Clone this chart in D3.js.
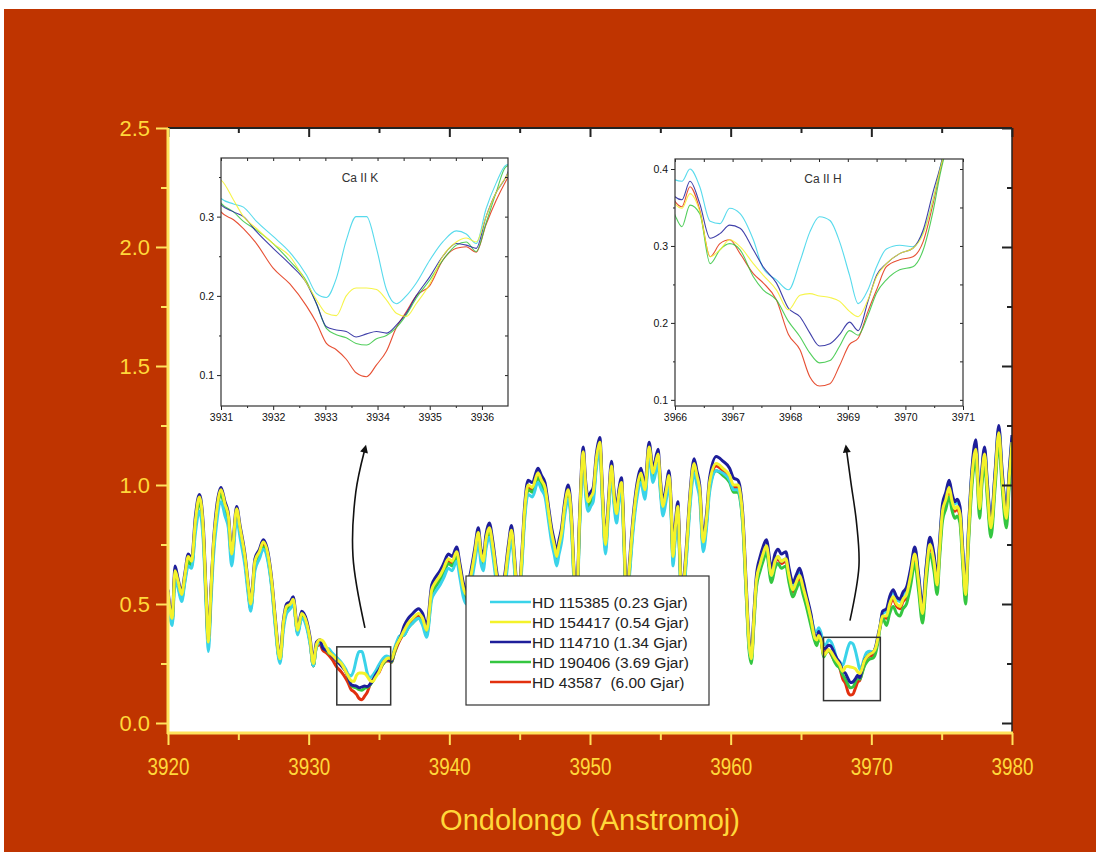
<!DOCTYPE html>
<html>
<head>
<meta charset="utf-8">
<script src="https://cdn.jsdelivr.net/npm/d3@7"></script>
<style>
  body { margin: 0; background: #fff; }
  text { font-family: "Liberation Sans", Arial, sans-serif; }
</style>
</head>
<body>
<div id="chart"></div>
<script>
// wavelength grids (Angstrom), split in the same pieces as the two zoomed windows
const wlLeft = [3920.0,3920.15,3920.3,3920.5,3920.7,3920.97,3921.2,3921.44,3921.68,3921.95,
  3922.23,3922.5,3922.7,3922.87,3923.05,3923.22,3923.46,3923.77,3924.05,3924.29,
  3924.53,3924.88,3925.12,3925.47,3925.7,3925.88,3926.18,3926.5,3926.77,3927.13,
  3927.4,3927.6,3927.96,3928.2,3928.43,3928.7,3928.9,3929.22,3929.5,3929.86,
  3930.1,3930.33,3930.55,3930.8]
const wlK = [3931.0,3931.24,3931.43,3931.68,3932.0,3932.32,3932.64,3932.83,3933.02,3933.21,
  3933.4,3933.59,3933.79,3933.98,3934.17,3934.36,3934.55,3934.74,3935.0,3935.25,
  3935.51,3935.7,3935.89,3936.08,3936.27,3936.46]
const wlMid = [3936.8,3937.08,3937.4,3937.8,3938.1,3938.39,3938.75,3939.0,3939.34,3939.6,
  3939.93,3940.2,3940.52,3940.75,3940.99,3941.2,3941.5,3941.8,3942.06,3942.25,
  3942.41,3942.6,3942.84,3943.1,3943.36,3943.6,3943.9,3944.2,3944.42,3944.65,
  3944.9,3945.15,3945.35,3945.6,3945.9,3946.3,3946.55,3946.8,3947.05,3947.27,
  3947.45,3947.63,3947.8,3947.98,3948.2,3948.45,3948.69,3948.85,3949.05,3949.25,
  3949.52,3949.7,3949.87,3950.05,3950.23,3950.45,3950.7,3950.9,3951.1,3951.3,
  3951.53,3951.7,3951.89,3952.05,3952.24,3952.42,3952.6,3952.8,3953.07,3953.35,
  3953.62,3953.9,3954.2,3954.48,3954.84,3955.0,3955.19,3955.4,3955.62,3955.78,
  3955.9,3956.08,3956.25,3956.38,3956.5,3956.7,3956.86,3957.1,3957.4,3957.6,
  3957.8,3958.05,3958.3,3958.5,3958.98,3959.45,3959.93,3960.2,3960.52,3960.64,
  3960.87,3961.1,3961.3,3961.47,3961.65,3961.83,3962.1,3962.3,3962.54,3962.9,
  3963.15,3963.37,3963.6,3963.92,3964.15,3964.43,3964.65,3964.9,3965.15,3965.38,3965.7]
const wlH = [3966.0,3966.12,3966.26,3966.43,3966.61,3966.78,3966.95,3967.13,3967.36,3967.53,
  3967.76,3967.97,3968.17,3968.34,3968.51,3968.69,3968.86,3969.03,3969.18,3969.35,
  3969.5,3969.67,3969.9,3970.13,3970.31,3970.48,3970.62]
const wlRight = [3970.8,3971.08,3971.3,3971.55,3971.8,3972.03,3972.25,3972.5,3972.8,3973.09,
  3973.35,3973.64,3973.9,3974.16,3974.45,3974.68,3974.85,3975.06,3975.3,3975.53,
  3975.75,3975.94,3976.1,3976.3,3976.5,3976.7,3976.9,3977.12,3977.43,3977.7,
  3977.85,3978.05,3978.25,3978.5,3978.8,3979.06,3979.3,3979.6,3979.8,3980.0]

// HD 115385 (0.23 Gjar)
const left115385 = [0.52,0.44,0.41,0.60,0.57,0.51,0.59,0.66,0.65,0.80,0.89,0.77,0.50,0.30,0.50,0.69,0.84,0.93,0.87,0.82,
  0.66,0.86,0.78,0.66,0.54,0.47,0.64,0.69,0.73,0.67,0.55,0.42,0.25,0.39,0.46,0.48,0.50,0.37,0.44,0.40,0.33,0.24,0.32,0.34]
const k115385 = [0.323,0.316,0.312,0.294,0.275,0.255,0.226,0.203,0.198,0.222,0.27,0.30,0.30,0.26,0.208,0.19,0.20,0.216,0.245,0.268,
  0.282,0.278,0.266,0.31,0.342,0.365]
const mid115385 = [0.37,0.40,0.42,0.44,0.41,0.36,0.52,0.55,0.58,0.61,0.65,0.64,0.68,0.61,0.53,0.50,0.57,0.67,0.76,0.67,
  0.64,0.73,0.78,0.70,0.58,0.51,0.55,0.69,0.77,0.63,0.45,0.65,0.85,0.96,0.95,1.01,0.98,0.95,0.85,0.76,
  0.71,0.66,0.71,0.76,0.87,0.94,0.81,0.60,0.45,0.80,1.10,0.95,0.89,0.91,0.93,1.07,1.14,0.90,0.71,0.87,
  1.04,0.92,0.84,0.92,0.97,0.73,0.45,0.61,0.81,0.95,1.01,0.94,1.12,1.01,1.09,0.97,0.87,0.93,1.00,0.85,
  0.66,0.79,0.87,0.67,0.50,0.57,0.69,0.90,1.05,1.00,0.94,0.72,0.83,0.97,1.06,1.05,1.02,0.98,0.98,0.96,
  0.83,0.55,0.33,0.27,0.44,0.60,0.67,0.71,0.745,0.62,0.68,0.70,0.68,0.69,0.63,0.57,0.60,0.63,0.58,0.53,0.45]
const h115385 = [0.386,0.384,0.40,0.377,0.332,0.329,0.349,0.342,0.308,0.271,0.256,0.243,0.28,0.318,0.338,0.333,0.305,0.262,0.225,0.243,
  0.273,0.296,0.301,0.299,0.318,0.36,0.407]
const right115385 = [0.46,0.47,0.52,0.55,0.52,0.51,0.54,0.56,0.64,0.73,0.62,0.48,0.65,0.77,0.70,0.60,0.75,0.91,0.96,1.01,
  0.95,0.92,0.93,0.90,0.72,0.56,0.80,1.03,1.17,0.92,1.05,1.15,1.00,0.84,1.05,1.24,1.05,0.88,1.05,1.20]

// HD 154417 (0.54 Gjar)
const left154417 = [0.55,0.47,0.44,0.64,0.60,0.54,0.62,0.70,0.68,0.85,0.95,0.82,0.55,0.34,0.55,0.74,0.89,0.98,0.92,0.87,
  0.71,0.90,0.82,0.70,0.58,0.50,0.68,0.72,0.76,0.70,0.58,0.45,0.27,0.42,0.49,0.50,0.52,0.39,0.46,0.42,0.35,0.25,0.33,0.35]
const k154417 = [0.346,0.321,0.30,0.285,0.266,0.25,0.216,0.195,0.178,0.175,0.20,0.21,0.21,0.208,0.195,0.178,0.174,0.19,0.215,0.25,
  0.268,0.273,0.268,0.30,0.33,0.35]
const mid154417 = [0.39,0.42,0.44,0.46,0.44,0.39,0.56,0.59,0.62,0.65,0.69,0.68,0.72,0.65,0.57,0.54,0.61,0.71,0.80,0.71,
  0.68,0.77,0.82,0.74,0.62,0.55,0.59,0.73,0.81,0.67,0.49,0.69,0.89,1.00,0.99,1.05,1.02,0.99,0.89,0.80,
  0.75,0.70,0.75,0.80,0.91,0.98,0.85,0.64,0.49,0.84,1.14,0.99,0.93,0.95,0.97,1.11,1.18,0.94,0.75,0.91,
  1.08,0.96,0.88,0.96,1.01,0.77,0.49,0.65,0.85,0.99,1.05,0.98,1.16,1.05,1.13,1.01,0.91,0.97,1.04,0.89,
  0.70,0.83,0.91,0.71,0.54,0.61,0.73,0.94,1.09,1.04,0.98,0.76,0.87,1.01,1.09,1.07,1.04,1.00,1.00,0.98,
  0.85,0.57,0.34,0.27,0.44,0.60,0.67,0.71,0.745,0.62,0.68,0.70,0.68,0.69,0.62,0.56,0.59,0.62,0.57,0.52,0.44]
const h154417 = [0.355,0.349,0.368,0.345,0.286,0.295,0.308,0.299,0.277,0.262,0.243,0.217,0.236,0.238,0.235,0.233,0.228,0.215,0.208,0.23,
  0.26,0.277,0.29,0.297,0.316,0.36,0.405]
const right154417 = [0.45,0.45,0.50,0.53,0.50,0.49,0.52,0.54,0.62,0.71,0.60,0.46,0.63,0.75,0.68,0.58,0.73,0.89,0.94,0.99,
  0.93,0.90,0.91,0.88,0.70,0.54,0.78,1.01,1.15,0.90,1.03,1.13,0.98,0.82,1.03,1.22,1.03,0.86,1.03,1.18]

// HD 114710 (1.34 Gjar)
const left114710 = [0.56,0.48,0.45,0.66,0.61,0.55,0.63,0.71,0.69,0.87,0.96,0.84,0.56,0.35,0.56,0.75,0.91,0.99,0.93,0.88,
  0.72,0.91,0.83,0.71,0.59,0.51,0.69,0.73,0.77,0.71,0.59,0.46,0.28,0.43,0.50,0.51,0.53,0.40,0.47,0.43,0.36,0.26,0.34,0.35]
const k114710 = [0.315,0.306,0.30,0.281,0.26,0.24,0.216,0.19,0.161,0.157,0.155,0.148,0.152,0.155,0.153,0.163,0.178,0.20,0.224,0.25,
  0.266,0.264,0.26,0.30,0.33,0.35]
const mid114710 = [0.41,0.44,0.46,0.48,0.46,0.41,0.58,0.61,0.64,0.67,0.71,0.70,0.74,0.67,0.59,0.56,0.63,0.73,0.82,0.73,
  0.70,0.79,0.84,0.76,0.64,0.57,0.61,0.75,0.83,0.69,0.51,0.71,0.91,1.02,1.01,1.07,1.04,1.01,0.91,0.82,
  0.77,0.72,0.77,0.82,0.93,1.00,0.87,0.66,0.51,0.86,1.16,1.01,0.95,0.97,0.99,1.13,1.20,0.96,0.77,0.93,
  1.10,0.98,0.90,0.98,1.03,0.79,0.51,0.67,0.87,1.01,1.07,1.00,1.18,1.07,1.15,1.03,0.93,0.99,1.06,0.91,
  0.72,0.85,0.93,0.73,0.56,0.63,0.75,0.96,1.11,1.06,1.00,0.78,0.89,1.03,1.12,1.10,1.07,1.03,1.02,1.00,
  0.87,0.59,0.36,0.29,0.46,0.62,0.70,0.74,0.77,0.65,0.71,0.73,0.71,0.72,0.65,0.59,0.62,0.65,0.60,0.54,0.46]
const h114710 = [0.364,0.36,0.384,0.355,0.31,0.316,0.327,0.323,0.295,0.273,0.252,0.219,0.208,0.187,0.17,0.173,0.185,0.201,0.19,0.228,
  0.262,0.277,0.29,0.297,0.321,0.37,0.407]
const right114710 = [0.47,0.48,0.53,0.56,0.53,0.52,0.55,0.57,0.65,0.74,0.63,0.49,0.66,0.78,0.71,0.61,0.76,0.92,0.97,1.02,
  0.96,0.93,0.94,0.91,0.73,0.57,0.81,1.04,1.19,0.93,1.06,1.16,1.01,0.85,1.06,1.25,1.06,0.89,1.06,1.21]

// HD 190406 (3.69 Gjar)
const left190406 = [0.53,0.45,0.42,0.62,0.58,0.52,0.60,0.68,0.66,0.83,0.93,0.80,0.53,0.33,0.53,0.72,0.87,0.96,0.90,0.85,
  0.69,0.88,0.80,0.68,0.56,0.48,0.66,0.70,0.74,0.68,0.56,0.43,0.26,0.41,0.47,0.49,0.51,0.38,0.45,0.41,0.34,0.24,0.32,0.34]
const k190406 = [0.317,0.306,0.294,0.283,0.266,0.244,0.218,0.19,0.159,0.151,0.147,0.14,0.138,0.146,0.15,0.16,0.176,0.197,0.22,0.245,
  0.264,0.268,0.256,0.292,0.33,0.363]
const mid190406 = [0.37,0.40,0.42,0.44,0.42,0.37,0.54,0.57,0.60,0.63,0.67,0.66,0.70,0.63,0.55,0.52,0.59,0.69,0.78,0.69,
  0.66,0.75,0.80,0.72,0.60,0.53,0.57,0.71,0.79,0.65,0.47,0.67,0.87,0.98,0.97,1.03,1.00,0.97,0.87,0.78,
  0.73,0.68,0.73,0.78,0.89,0.96,0.83,0.62,0.47,0.82,1.12,0.97,0.91,0.93,0.95,1.09,1.16,0.92,0.73,0.89,
  1.06,0.94,0.86,0.94,0.99,0.75,0.47,0.63,0.83,0.97,1.03,0.96,1.14,1.03,1.11,0.99,0.89,0.95,1.02,0.87,
  0.68,0.81,0.89,0.69,0.52,0.59,0.71,0.92,1.07,1.02,0.96,0.74,0.85,0.99,1.06,1.04,1.01,0.97,0.97,0.95,
  0.82,0.54,0.31,0.25,0.41,0.57,0.64,0.68,0.715,0.59,0.65,0.67,0.65,0.66,0.59,0.53,0.56,0.59,0.54,0.49,0.41]
const h190406 = [0.34,0.325,0.353,0.342,0.277,0.295,0.303,0.295,0.26,0.243,0.23,0.202,0.182,0.161,0.148,0.151,0.17,0.19,0.184,0.21,
  0.239,0.256,0.269,0.273,0.295,0.345,0.399]
const right190406 = [0.44,0.41,0.46,0.49,0.46,0.45,0.48,0.50,0.58,0.67,0.56,0.42,0.59,0.71,0.64,0.54,0.69,0.85,0.90,0.95,
  0.89,0.86,0.87,0.84,0.66,0.50,0.74,0.97,1.11,0.86,0.99,1.09,0.94,0.78,0.99,1.18,0.99,0.82,0.99,1.14]

// HD 43587 (6.00 Gjar)
const left43587 = [0.55,0.46,0.43,0.64,0.59,0.53,0.61,0.69,0.67,0.84,0.94,0.81,0.54,0.34,0.54,0.73,0.88,0.97,0.91,0.86,
  0.70,0.89,0.81,0.69,0.56,0.48,0.67,0.71,0.75,0.69,0.57,0.44,0.26,0.41,0.48,0.49,0.51,0.38,0.45,0.41,0.34,0.24,0.32,0.33]
const k43587 = [0.306,0.296,0.285,0.266,0.235,0.215,0.187,0.166,0.14,0.132,0.12,0.103,0.098,0.113,0.13,0.16,0.18,0.20,0.213,0.245,
  0.26,0.262,0.255,0.29,0.32,0.345]
const mid43587 = [0.38,0.41,0.43,0.45,0.43,0.38,0.55,0.58,0.61,0.64,0.68,0.67,0.71,0.64,0.56,0.53,0.60,0.70,0.79,0.70,
  0.67,0.76,0.81,0.73,0.61,0.54,0.58,0.72,0.80,0.66,0.48,0.68,0.88,0.99,0.98,1.04,1.01,0.98,0.88,0.79,
  0.74,0.69,0.74,0.79,0.90,0.97,0.84,0.63,0.48,0.83,1.13,0.98,0.92,0.94,0.96,1.10,1.17,0.93,0.74,0.90,
  1.07,0.95,0.87,0.95,1.00,0.76,0.48,0.64,0.84,0.98,1.04,0.97,1.15,1.04,1.12,1.00,0.90,0.96,1.03,0.88,
  0.69,0.82,0.90,0.70,0.53,0.60,0.72,0.93,1.08,1.03,0.97,0.75,0.86,1.00,1.08,1.06,1.03,0.99,0.99,0.97,
  0.84,0.56,0.33,0.27,0.43,0.59,0.66,0.70,0.735,0.61,0.67,0.69,0.67,0.68,0.61,0.55,0.58,0.61,0.56,0.51,0.43]
const h43587 = [0.358,0.351,0.377,0.347,0.286,0.303,0.308,0.29,0.264,0.252,0.23,0.185,0.165,0.13,0.118,0.121,0.145,0.172,0.18,0.215,
  0.243,0.273,0.282,0.286,0.306,0.355,0.403]
const right43587 = [0.45,0.44,0.49,0.52,0.49,0.48,0.51,0.53,0.61,0.70,0.59,0.45,0.62,0.74,0.67,0.57,0.72,0.88,0.93,0.98,
  0.92,0.89,0.90,0.87,0.69,0.53,0.77,1.00,1.14,0.89,1.02,1.12,0.97,0.81,1.02,1.21,1.02,0.85,1.02,1.17]

const legendLabels = ['HD 115385 (0.23 Gjar)', 'HD 154417 (0.54 Gjar)', 'HD 114710 (1.34 Gjar)',
                      'HD 190406 (3.69 Gjar)', 'HD 43587  (6.00 Gjar)']
const colors = ['#3ad3e9', '#f4f22a', '#1e1e9a', '#34c640', '#e2300f']

// axis ticks
const xTicks = [3920, 3930, 3940, 3950, 3960, 3970, 3980]
const yTicks = [0.0, 0.5, 1.0, 1.5, 2.0, 2.5]
const kTicksX = [3931, 3932, 3933, 3934, 3935, 3936]
const kTicksY = [0.1, 0.2, 0.3]
const hTicksX = [3966, 3967, 3968, 3969, 3970, 3971]
const hTicksY = [0.1, 0.2, 0.3, 0.4]

// zoom boxes on the main plot [x0, x1, y0, y1] and arrow paths, in data units
const boxK = [3932.0, 3935.83, 0.076, 0.32]
const boxH = [3966.6, 3970.64, 0.094, 0.36]
const arrowK = [[3934.0, 0.40], [3933.15, 0.70], [3933.35, 0.97], [3933.95, 1.14]]
const arrowH = [[3968.48, 0.43], [3969.12, 0.66], [3968.95, 0.84], [3968.55, 1.01], [3968.25, 1.14]]

// -------------------------------------------------------------
const W = 1100, H = 856
const yellowText = '#ffd83a'
const axisYellow = '#ffe35c'

const wavelength = [...wlLeft, ...wlK, ...wlMid, ...wlH, ...wlRight]
const seriesValues = [
  [...left115385, ...k115385, ...mid115385, ...h115385, ...right115385],
  [...left154417, ...k154417, ...mid154417, ...h154417, ...right154417],
  [...left114710, ...k114710, ...mid114710, ...h114710, ...right114710],
  [...left190406, ...k190406, ...mid190406, ...h190406, ...right190406],
  [...left43587, ...k43587, ...mid43587, ...h43587, ...right43587]
]
const series = seriesValues.map((vals, i) => ({
  label: legendLabels[i],
  color: colors[i],
  points: vals.map((v, j) => [wavelength[j], v])
}))
// drawing order so that yellow sits on top like in the picture
const drawOrder = [4, 3, 0, 2, 1]

const svg = d3.select('#chart').append('svg')
  .attr('width', W).attr('height', H)

svg.append('rect')
  .attr('x', 4).attr('y', 9).attr('width', 1092).attr('height', 843)
  .attr('fill', '#bf3400')

const plot = {left: 168, right: 1012, top: 128, bottom: 733}
const x = d3.scaleLinear().domain([3920, 3980]).range([plot.left, plot.right])
const y = d3.scaleLinear().domain([-0.042, 2.5]).range([plot.bottom, plot.top])

svg.append('rect')
  .attr('x', plot.left).attr('y', plot.top)
  .attr('width', plot.right - plot.left).attr('height', plot.bottom - plot.top)
  .attr('fill', '#fff')

const defs = svg.append('defs')
defs.append('clipPath').attr('id', 'clipMain')
  .append('rect')
  .attr('x', plot.left).attr('y', plot.top)
  .attr('width', plot.right - plot.left).attr('height', plot.bottom - plot.top)

defs.append('marker')
  .attr('id', 'arrowhead')
  .attr('viewBox', '0 0 10 10')
  .attr('refX', 1).attr('refY', 5)
  .attr('markerWidth', 14).attr('markerHeight', 8)
  .attr('markerUnits', 'userSpaceOnUse')
  .attr('orient', 'auto')
  .append('path').attr('d', 'M0,0 L10,5 L0,10 Z').attr('fill', '#111')

// main spectra
const line = d3.line()
  .x(d => x(d[0]))
  .y(d => y(d[1]))
  .curve(d3.curveMonotoneX)

svg.append('g').attr('clip-path', 'url(#clipMain)')
  .selectAll('path')
  .data(drawOrder.map(i => series[i]))
  .join('path')
  .attr('d', d => line(d.points))
  .attr('fill', 'none')
  .attr('stroke', d => d.color)
  .attr('stroke-width', 3)
  .attr('stroke-linejoin', 'round')

// zoom boxes
svg.selectAll('rect.zoombox')
  .data([boxK, boxH])
  .join('rect')
  .attr('class', 'zoombox')
  .attr('x', d => x(d[0]))
  .attr('y', d => y(d[3]))
  .attr('width', d => x(d[1]) - x(d[0]))
  .attr('height', d => y(d[2]) - y(d[3]))
  .attr('fill', 'none')
  .attr('stroke', '#333')
  .attr('stroke-width', 1.5)

// curved arrows
const arrowLine = d3.line()
  .x(d => x(d[0]))
  .y(d => y(d[1]))
  .curve(d3.curveCatmullRom)

svg.selectAll('path.arrow')
  .data([arrowK, arrowH])
  .join('path')
  .attr('class', 'arrow')
  .attr('d', arrowLine)
  .attr('fill', 'none')
  .attr('stroke', '#111')
  .attr('stroke-width', 1.6)
  .attr('marker-end', 'url(#arrowhead)')

// main axes
function styleAxis(g, color, fontSize) {
  g.select('.domain').remove()
  g.selectAll('.tick line').attr('stroke', color).attr('stroke-width', 2)
  g.selectAll('.tick text')
    .attr('fill', yellowText)
    .style('font-size', fontSize + 'px')
}

const yMinor = d3.range(0.25, 2.5, 0.5)
const xMinor = d3.range(3925, 3980, 10)

// left (yellow, outward)
const gl = svg.append('g').attr('transform', `translate(${plot.left},0)`)
  .call(d3.axisLeft(y).tickValues(yTicks).tickSize(12).tickPadding(6).tickFormat(d3.format('.1f')))
styleAxis(gl, axisYellow, 22)
const glm = svg.append('g').attr('transform', `translate(${plot.left},0)`)
  .call(d3.axisLeft(y).tickValues(yMinor).tickSize(7).tickFormat(''))
styleAxis(glm, axisYellow, 22)

// bottom (yellow, outward), labels a bit condensed like the original
const gb = svg.append('g').attr('transform', `translate(0,${plot.bottom})`)
  .call(d3.axisBottom(x).tickValues(xTicks).tickSize(12).tickPadding(14).tickFormat(d3.format('d')))
styleAxis(gb, axisYellow, 23)
gb.selectAll('.tick text').attr('transform', 'scale(0.82,1)')
const gbm = svg.append('g').attr('transform', `translate(0,${plot.bottom})`)
  .call(d3.axisBottom(x).tickValues(xMinor).tickSize(7).tickFormat(''))
styleAxis(gbm, axisYellow, 22)

// top (black, inward)
const gt = svg.append('g').attr('transform', `translate(0,${plot.top})`)
  .call(d3.axisBottom(x).tickValues(xTicks).tickSize(9).tickFormat(''))
styleAxis(gt, '#222', 10)
const gtm = svg.append('g').attr('transform', `translate(0,${plot.top})`)
  .call(d3.axisBottom(x).tickValues(xMinor).tickSize(5).tickFormat(''))
styleAxis(gtm, '#222', 10)

// right (black, inward)
const gr = svg.append('g').attr('transform', `translate(${plot.right},0)`)
  .call(d3.axisLeft(y).tickValues(yTicks).tickSize(10).tickFormat(''))
styleAxis(gr, '#222', 10)
const grm = svg.append('g').attr('transform', `translate(${plot.right},0)`)
  .call(d3.axisLeft(y).tickValues(yMinor).tickSize(5).tickFormat(''))
styleAxis(grm, '#222', 10)

// frame lines
svg.append('line').attr('x1', plot.left).attr('x2', plot.right).attr('y1', plot.top).attr('y2', plot.top)
  .attr('stroke', '#222').attr('stroke-width', 2)
svg.append('line').attr('x1', plot.right).attr('x2', plot.right).attr('y1', plot.top).attr('y2', plot.bottom)
  .attr('stroke', '#222').attr('stroke-width', 1.5)
svg.append('line').attr('x1', plot.left).attr('x2', plot.left).attr('y1', plot.top).attr('y2', plot.bottom + 1)
  .attr('stroke', axisYellow).attr('stroke-width', 3)
svg.append('line').attr('x1', plot.left - 1).attr('x2', plot.right + 1).attr('y1', plot.bottom).attr('y2', plot.bottom)
  .attr('stroke', axisYellow).attr('stroke-width', 3)

svg.append('text')
  .attr('x', 590).attr('y', 830)
  .attr('text-anchor', 'middle')
  .attr('fill', yellowText)
  .style('font-size', '29px')
  .text('Ondolongo (Anstromoj)')

// legend
const legend = {x: 466, y: 576, w: 243, h: 129}
const lg = svg.append('g')
lg.append('rect')
  .attr('x', legend.x).attr('y', legend.y).attr('width', legend.w).attr('height', legend.h)
  .attr('fill', '#fff').attr('stroke', '#333').attr('stroke-width', 1.2)
const rows = lg.selectAll('g.row').data(series).join('g')
  .attr('class', 'row')
  .attr('transform', (d, i) => `translate(${legend.x}, ${legend.y + 26 + i * 20})`)
rows.append('line')
  .attr('x1', 24).attr('x2', 65)
  .attr('stroke', d => d.color).attr('stroke-width', 2.5)
rows.append('text')
  .attr('x', 66).attr('y', 5.5)
  .attr('fill', '#222')
  .style('font-size', '15.5px')
  .style('white-space', 'pre')
  .text(d => d.label)

// insets
function drawInset(cfg) {
  const ix = d3.scaleLinear().domain(cfg.xDomain).range([cfg.left, cfg.right])
  const iy = d3.scaleLinear().domain(cfg.yDomain).range([cfg.bottom, cfg.top])
  const g = svg.append('g')
  g.append('rect')
    .attr('x', cfg.left).attr('y', cfg.top)
    .attr('width', cfg.right - cfg.left).attr('height', cfg.bottom - cfg.top)
    .attr('fill', '#fff')
  defs.append('clipPath').attr('id', cfg.id)
    .append('rect')
    .attr('x', cfg.left).attr('y', cfg.top)
    .attr('width', cfg.right - cfg.left).attr('height', cfg.bottom - cfg.top)

  const iline = d3.line()
    .x(d => ix(d[0]))
    .y(d => iy(d[1]))
    .curve(d3.curveMonotoneX)

  g.append('g').attr('clip-path', `url(#${cfg.id})`)
    .selectAll('path')
    .data(drawOrder.map(i => series[i]))
    .join('path')
    .attr('d', d => iline(d.points))
    .attr('fill', 'none')
    .attr('stroke', d => d.color)
    .attr('stroke-width', 1.1)
    .attr('opacity', 0.85)

  const xMin = d3.range(cfg.xDomain[0] + 0.5, cfg.xDomain[1], 1)
  const yMin = d3.range(0.15, cfg.yDomain[1], 0.1)

  function small(ax) {
    ax.select('.domain').remove()
    ax.selectAll('.tick line').attr('stroke', '#222').attr('stroke-width', 1)
    ax.selectAll('.tick text').attr('fill', '#111').style('font-size', '10.5px')
  }
  small(g.append('g').attr('transform', `translate(0,${cfg.bottom})`)
    .call(d3.axisBottom(ix).tickValues(cfg.xTicks).tickSize(4).tickPadding(4).tickFormat(d3.format('d'))))
  small(g.append('g').attr('transform', `translate(0,${cfg.bottom})`)
    .call(d3.axisBottom(ix).tickValues(xMin).tickSize(2).tickFormat('')))
  small(g.append('g').attr('transform', `translate(${cfg.left},0)`)
    .call(d3.axisLeft(iy).tickValues(cfg.yTicks).tickSize(4).tickPadding(3).tickFormat(d3.format('.1f'))))
  small(g.append('g').attr('transform', `translate(${cfg.left},0)`)
    .call(d3.axisLeft(iy).tickValues(yMin).tickSize(2).tickFormat('')))
  small(g.append('g').attr('transform', `translate(0,${cfg.top})`)
    .call(d3.axisBottom(ix).tickValues(cfg.xTicks.concat(xMin)).tickSize(3).tickFormat('')))
  small(g.append('g').attr('transform', `translate(${cfg.right},0)`)
    .call(d3.axisLeft(iy).tickValues(cfg.yTicks.concat(yMin)).tickSize(3).tickFormat('')))

  g.append('rect')
    .attr('x', cfg.left).attr('y', cfg.top)
    .attr('width', cfg.right - cfg.left).attr('height', cfg.bottom - cfg.top)
    .attr('fill', 'none').attr('stroke', '#333').attr('stroke-width', 1.2)

  g.append('text')
    .attr('x', cfg.titleX).attr('y', cfg.top + 24)
    .attr('text-anchor', 'middle')
    .attr('fill', '#333')
    .style('font-size', '12px')
    .text(cfg.title)
}

drawInset({id: 'clipK', left: 221, right: 508, top: 158, bottom: 406,
  xDomain: [3931, 3936.5], yDomain: [0.061, 0.374], xTicks: kTicksX, yTicks: kTicksY,
  title: 'Ca II K', titleX: 360})
drawInset({id: 'clipH', left: 675, right: 963, top: 159, bottom: 406,
  xDomain: [3966, 3971], yDomain: [0.092, 0.413], xTicks: hTicksX, yTicks: hTicksY,
  title: 'Ca II H', titleX: 823})
</script>
</body>
</html>
